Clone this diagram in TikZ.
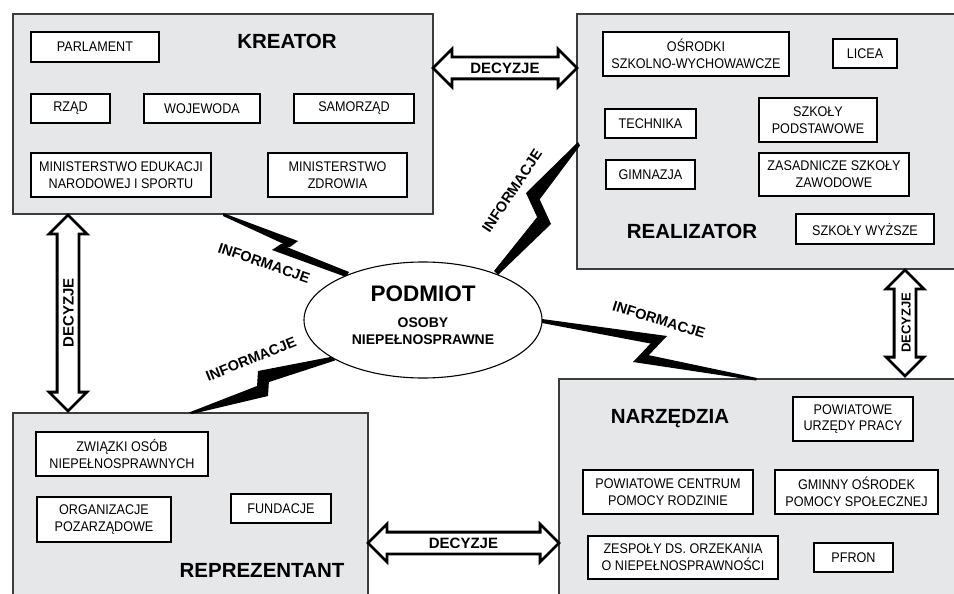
\documentclass[tikz,border=0pt]{standalone}
\usepackage{fontspec}
\setmainfont{Liberation Sans}
\newfontfamily\itemfont[FakeStretch=0.9]{Liberation Sans}
\usetikzlibrary{shapes.geometric,shapes.arrows}
\definecolor{panelgrey}{RGB}{230,231,233}
\definecolor{edgegrey}{RGB}{60,60,60}
\begin{document}
\begin{tikzpicture}[x=1pt,y=-1pt,
  panelbox/.style={rectangle, draw=edgegrey, line width=1.1pt, fill=panelgrey, inner sep=0pt, outer sep=0pt},
  item/.style={rectangle, draw=black, line width=1.2pt, fill=white, align=center, inner sep=0pt,
    font=\itemfont\fontsize{14}{16.8}\selectfont},
  ptitle/.style={font=\fontsize{20.5}{24}\selectfont\bfseries, inner sep=0pt, text depth=0pt},
  info/.style={font=\fontsize{14.5}{17}\selectfont\bfseries, inner sep=0pt},
  bolt/.style={fill=black, draw=none},
  decarrow/.style={double arrow, draw=black, line width=2.8pt, fill=white,
    double arrow head extend=8pt, double arrow tip angle=90, inner xsep=2pt, inner ysep=4pt,
    text height=11pt, text depth=0pt, minimum width=0pt, line join=miter,
    font=\fontsize{15}{18}\selectfont\bfseries}
]
\useasboundingbox (0,0) rectangle (954,594);
\clip (0,0) rectangle (954,594);
\fill[white] (0,0) rectangle (954,594);

% panels
\node[panelbox, minimum width=420, minimum height=200] (kreator) at (223,114) {};
\node[panelbox, minimum width=383, minimum height=255] (realizator) at (768.5,141.5) {};
\node[panelbox, minimum width=355, minimum height=187] (reprezentant) at (190.5,506.5) {};
\node[panelbox, minimum width=401, minimum height=221] (narzedzia) at (759.5,489.5) {};

% titles
\node[ptitle] (tkreator) at (287,41) {KREATOR};
\node[ptitle] (trealizator) at (692,231) {REALIZATOR};
\node[ptitle] (treprezentant) at (262,570) {REPREZENTANT};
\node[ptitle] (tnarzedzia) at (670,416) {NARZĘDZIA};

% KREATOR items
\node[item, minimum width=128, minimum height=30] (parl) at (95,47) {PARLAMENT};
\node[item, minimum width=79, minimum height=29] (rzad) at (70.5,108.5) {RZĄD};
\node[item, minimum width=116, minimum height=29] (woj) at (202,108.5) {WOJEWODA};
\node[item, minimum width=120, minimum height=29] (sam) at (354,108.5) {SAMORZĄD};
\node[item, minimum width=180, minimum height=44] (men) at (121,175) {MINISTERSTWO EDUKACJI\\NARODOWEJ I SPORTU};
\node[item, minimum width=139, minimum height=44] (mz) at (337.5,175) {MINISTERSTWO\\ZDROWIA};

% REALIZATOR items
\node[item, minimum width=186, minimum height=44] (osr) at (696,54) {OŚRODKI\\SZKOLNO-WYCHOWAWCZE};
\node[item, minimum width=64, minimum height=29] (lic) at (865,53.5) {LICEA};
\node[item, minimum width=91, minimum height=29] (tech) at (650.5,123.5) {TECHNIKA};
\node[item, minimum width=118, minimum height=44] (szp) at (818,120) {SZKOŁY\\PODSTAWOWE};
\node[item, minimum width=89, minimum height=29] (gim) at (650.5,174.5) {GIMNAZJA};
\node[item, minimum width=150, minimum height=43] (zsz) at (834,174.5) {ZASADNICZE SZKOŁY\\ZAWODOWE};
\node[item, minimum width=138, minimum height=30] (szw) at (865,229) {SZKOŁY WYŻSZE};

% REPREZENTANT items
\node[item, minimum width=172, minimum height=44] (zw) at (122,454) {ZWIĄZKI OSÓB\\NIEPEŁNOSPRAWNYCH};
\node[item, minimum width=134, minimum height=45] (org) at (104,519.5) {ORGANIZACJE\\POZARZĄDOWE};
\node[item, minimum width=100, minimum height=29] (fund) at (281,508.5) {FUNDACJE};

% NARZEDZIA items
\node[item, minimum width=120, minimum height=44] (pup) at (853,419) {POWIATOWE\\URZĘDY PRACY};
\node[item, minimum width=170, minimum height=44] (pcpr) at (668,492) {POWIATOWE CENTRUM\\POMOCY RODZINIE};
\node[item, minimum width=163, minimum height=44] (gops) at (856.5,492) {GMINNY OŚRODEK\\POMOCY SPOŁECZNEJ};
\node[item, minimum width=190, minimum height=43] (zesp) at (683,557.5) {ZESPOŁY DS. ORZEKANIA\\O NIEPEŁNOSPRAWNOŚCI};
\node[item, minimum width=79, minimum height=29] (pfron) at (853.5,557.5) {PFRON};

% lightning bolts
% kreator - podmiot
\fill[bolt] (223,213) -- (298,241) -- (287,245.5) -- (223,216) -- cycle;
\fill[bolt] (298,241) -- (290,247) -- (272,250) -- (281,244) -- cycle;
\fill[bolt] (272,250) -- (283,245.5) -- (349,272) -- (346,277) -- cycle;
% podmiot - realizator
\fill[bolt] (578,142) -- (580,145.5) -- (537,203) -- (526,193) -- cycle;
\fill[bolt] (526,193) -- (539,198) -- (551,224) -- (538,219) -- cycle;
\fill[bolt] (551,224) -- (538,216) -- (494,271) -- (498,275) -- cycle;
% podmiot - narzedzia
\fill[bolt] (542,319) -- (667,336) -- (653,344) -- (542,323) -- cycle;
\fill[bolt] (667,336) -- (652,342) -- (633,362) -- (648,356) -- cycle;
\fill[bolt] (633,362) -- (648,355) -- (757,378) -- (756,380.5) -- cycle;
% podmiot - reprezentant
\fill[bolt] (333,356.5) -- (335,360.5) -- (269,382) -- (258,371) -- cycle;
\fill[bolt] (258,371) -- (269,380) -- (268,396) -- (257,387) -- cycle;
\fill[bolt] (268,396) -- (257,386) -- (189,412.5) -- (192,414) -- cycle;

% central ellipse
\node[ellipse, draw=black, line width=1.1pt, fill=white, minimum width=238, minimum height=116, inner sep=0pt] (podmiot) at (423,320) {};
\node[font=\fontsize{22.5}{26}\selectfont\bfseries, inner sep=0pt, text depth=0pt] (podmiott) at (423,294) {PODMIOT};
\node[font=\fontsize{14}{16.6}\selectfont\bfseries, align=center, inner sep=0pt] (osoby) at (423,331) {OSOBY\\NIEPEŁNOSPRAWNE};

% information labels
\node[info, rotate=-19] (inf1) at (264,263) {INFORMACJE};
\node[info, rotate=56.5] (inf2) at (512,191) {INFORMACJE};
\node[info, rotate=-17] (inf3) at (659,320) {INFORMACJE};
\node[info, rotate=22] (inf4) at (251,359) {INFORMACJE};

% decision arrows
\node[decarrow, minimum height=144] (dec1) at (505,68) {DECYZJE};
\node[decarrow, minimum height=196, rotate=90] (dec2) at (68,313) {DECYZJE};
\node[decarrow, minimum height=106, rotate=90, font=\fontsize{13}{16}\selectfont\bfseries] (dec3) at (905,323) {DECYZJE};
\node[decarrow, minimum height=191] (dec4) at (463.5,543) {DECYZJE};
\end{tikzpicture}
\end{document}
